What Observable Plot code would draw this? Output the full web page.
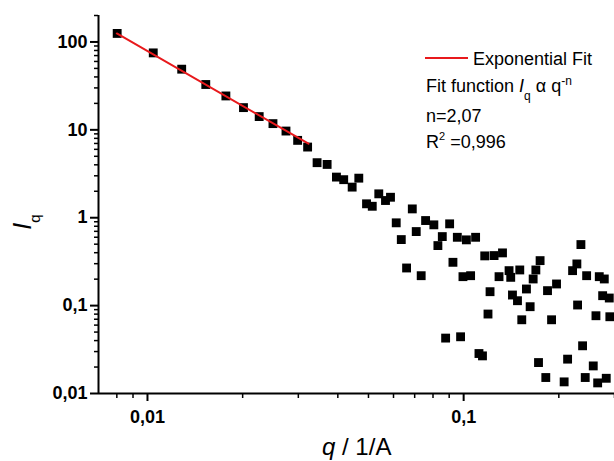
<!DOCTYPE html>
<html>
<head>
<meta charset="utf-8">
<script src="https://cdn.jsdelivr.net/npm/d3@7"></script>
<script src="https://cdn.jsdelivr.net/npm/@observablehq/plot@0.6"></script>
<style>
  body { margin: 0; background: #fff; }
  svg { display: block; }
</style>
</head>
<body>
<div id="chart"></div>
<script>
// ---- data ----
const qValues = [
  0.00802, 0.01043, 0.01283, 0.01529, 0.01770, 0.02012, 0.02256, 0.02494, 0.02742, 0.02985,
  0.03210, 0.03439, 0.0370, 0.0396, 0.04175, 0.0444, 0.0466, 0.0493, 0.0514, 0.0539,
  0.0566, 0.0587, 0.0612, 0.0635, 0.0660, 0.0688, 0.0708, 0.0734, 0.0758, 0.0805,
  0.0829, 0.0856, 0.0877, 0.0903, 0.0925, 0.0955, 0.0978, 0.0995, 0.1020, 0.1052,
  0.1091, 0.1118, 0.1147, 0.1166, 0.1194, 0.1212, 0.1248, 0.1294, 0.1327, 0.1392,
  0.1409, 0.1427, 0.1480, 0.1505, 0.1527, 0.1580, 0.1623, 0.1659, 0.1692, 0.1725,
  0.1745, 0.1819, 0.1842, 0.1897, 0.1967, 0.2079, 0.2132, 0.2211, 0.2281, 0.2293,
  0.2349, 0.2378, 0.2424, 0.2449, 0.2570, 0.2621, 0.2654, 0.2685, 0.2752, 0.2785,
  0.2825, 0.2888, 0.2900
];
const iValues = [
  125.0, 75.1, 49.0, 32.8, 24.3, 17.9, 14.15, 11.77, 9.69, 7.59,
  6.37, 4.23, 4.04, 2.90, 2.71, 2.23, 2.82, 1.44, 1.35, 1.87,
  1.57, 1.71, 0.875, 0.564, 0.268, 1.26, 0.696, 0.219, 0.929, 0.830,
  0.482, 0.610, 0.0427, 0.852, 0.311, 0.599, 0.0442, 0.2135, 0.560, 0.219,
  0.599, 0.0285, 0.0268, 0.368, 0.0802, 0.144, 0.371, 0.2135, 0.398, 0.250,
  0.2098, 0.132, 0.1137, 0.2545, 0.0690, 0.1546, 0.0972, 0.201, 0.2545, 0.0225,
  0.325, 0.0152, 0.148, 0.069, 0.1763, 0.01356, 0.0246, 0.250, 0.298, 0.1016,
  0.495, 0.0349, 0.0152, 0.219, 0.0206, 0.0767, 0.0132, 0.2135, 0.1297, 0.201,
  0.0149, 0.122, 0.0747
];
// fit line end points (power law, n = 2,07)
const fitQ = [0.0080, 0.0323];
const fitI = [125, 6.95];

const yMajor = [0.01, 0.1, 1, 10, 100];
const yMajorLabels = ["0,01", "0,1", "1", "10", "100"];
const xMajor = [0.01, 0.1];
const xMajorLabels = ["0,01", "0,1"];

const legendLabel = "Exponential Fit";
const fitText = "Fit function ";
const nText = "n=2,07";
const r2Text = " =0,996";

// ---- build ----
const RED = "#e8191c";
const FONT = "'Liberation Sans', Arial, Helvetica, sans-serif";

const data = qValues.map((q, i) => ({q, I: iValues[i]}));
const fit = fitQ.map((q, i) => ({q, I: fitI[i]}));

const yLab = new Map(yMajor.map((v, i) => [v, yMajorLabels[i]]));
const xLab = new Map(xMajor.map((v, i) => [v, xMajorLabels[i]]));

const yMinor = [];
for (const dec of [0.01, 0.1, 1, 10]) for (let k = 2; k <= 9; k++) yMinor.push(+(k * dec).toPrecision(3));
yMinor.push(200);
const xMinor = [0.008, 0.009];
for (const dec of [0.01, 0.1]) for (let k = 2; k <= 9; k++) { const v = +(k * dec).toPrecision(3); if (v <= 0.3) xMinor.push(v); }

const chart = Plot.plot({
  width: 614,
  height: 461,
  marginLeft: 98,
  marginRight: 0,
  marginTop: 15,
  marginBottom: 68,
  x: {type: "log", domain: [0.007, 0.3], axis: null},
  y: {type: "log", domain: [0.01, 200], axis: null},
  style: {fontFamily: FONT, background: "white", color: "black", overflow: "visible"},
  marks: [
    Plot.axisY(yMinor, {anchor: "left", tickSize: 4, strokeWidth: 1.5, tickFormat: () => "", label: null}),
    Plot.axisY(yMajor, {anchor: "left", tickSize: 8, strokeWidth: 2, tickPadding: 3,
      tickFormat: d => yLab.get(d), fontSize: 18, fontWeight: "bold", label: null}),
    Plot.axisX(xMinor, {anchor: "bottom", tickSize: 5, strokeWidth: 1.5, tickFormat: () => "", label: null}),
    Plot.axisX(xMajor, {anchor: "bottom", tickSize: 8, strokeWidth: 2, tickPadding: 9,
      tickFormat: d => xLab.get(d), fontSize: 18, fontWeight: "bold", label: null}),
    Plot.ruleX([0.007], {stroke: "black", strokeWidth: 2}),
    Plot.ruleY([0.01], {stroke: "black", strokeWidth: 2}),
    Plot.dot(data, {x: "q", y: "I", symbol: "square", r: 5, fill: "black", stroke: null}),
    Plot.line(fit, {x: "q", y: "I", stroke: RED, strokeWidth: 2})
  ]
});
document.getElementById("chart").appendChild(chart);

// ---- annotations (rich text) ----
const svg = d3.select(chart);
const g = svg.append("g")
  .attr("font-family", FONT)
  .attr("fill", "black")
  .attr("text-anchor", "start");

// axis titles
const yt = g.append("text")
  .attr("transform", "translate(31,222) rotate(-90)")
  .attr("text-anchor", "middle")
  .attr("font-size", 25);
yt.append("tspan").attr("font-style", "italic").text("I");
yt.append("tspan").attr("font-size", 15).attr("dy", 9).text("q");

const xt = g.append("text")
  .attr("x", 322).attr("y", 455)
  .attr("font-size", 24);
xt.append("tspan").attr("font-style", "italic").text("q");
xt.append("tspan").text(" / 1/A");

// legend
g.append("line").attr("x1", 425).attr("x2", 468).attr("y1", 58).attr("y2", 58)
  .attr("stroke", RED).attr("stroke-width", 2);
g.append("text").attr("x", 473).attr("y", 65).attr("font-size", 18).text(legendLabel);

const ff = g.append("text").attr("x", 426).attr("y", 92).attr("font-size", 18);
ff.append("tspan").text(fitText);
ff.append("tspan").attr("font-style", "italic").text("I");
ff.append("tspan").attr("font-size", 12).attr("dy", 8).text("q");
ff.append("tspan").attr("dy", -8).text(" \u03b1 q");
ff.append("tspan").attr("font-size", 12).attr("dy", -7).text("-n");

g.append("text").attr("x", 426).attr("y", 122).attr("font-size", 18).text(nText);

const r2 = g.append("text").attr("x", 426).attr("y", 148).attr("font-size", 18);
r2.append("tspan").text("R");
r2.append("tspan").attr("font-size", 11).attr("dy", -8).text("2");
r2.append("tspan").attr("dy", 8).text(r2Text);
</script>
</body>
</html>
